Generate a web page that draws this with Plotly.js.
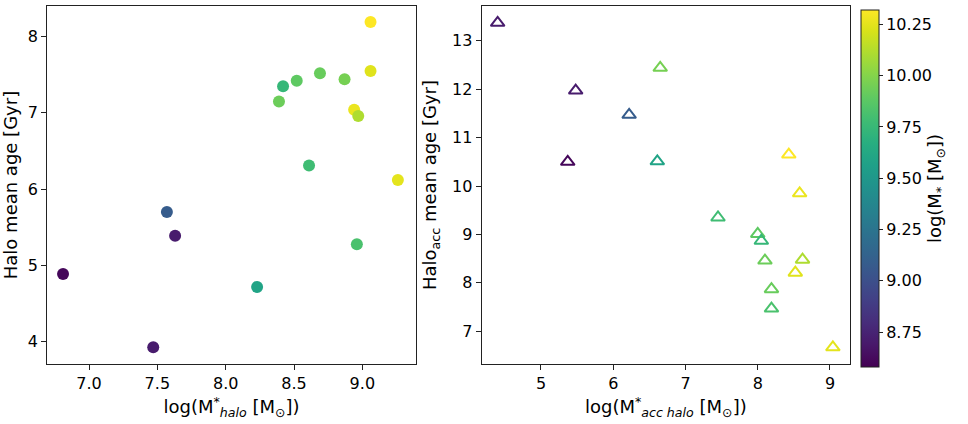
<!DOCTYPE html>
<html>
<head>
<meta charset="utf-8">
<script src="https://cdn.plot.ly/plotly-3.0.1.min.js"></script>
<style>
  html, body { margin: 0; padding: 0; background: #fff; }
  #chart { width: 968px; height: 424px; }
</style>
</head>
<body>
<div id="chart"></div>
<script>
// left panel: halo stellar mass vs halo mean age
var haloMass = [6.81, 7.47, 7.57, 7.63, 8.23, 8.39, 8.42, 8.52, 8.69, 8.61, 8.87, 8.94, 8.97, 8.96, 9.06, 9.06, 9.26];
var haloAge  = [4.89, 3.93, 5.70, 5.39, 4.72, 7.15, 7.35, 7.42, 7.52, 6.31, 7.44, 7.04, 6.96, 5.28, 8.19, 7.55, 6.12];
var haloStar = [8.61, 8.71, 9.08, 8.71, 9.59, 9.93, 9.74, 9.89, 9.92, 9.78, 9.96, 10.27, 10.11, 9.82, 10.32, 10.24, 10.25];

// right panel: accreted halo stellar mass vs accreted halo mean age
var accMass = [4.40, 5.48, 6.22, 6.65, 5.37, 6.61, 8.43, 8.58, 7.45, 8.00, 8.05, 8.10, 8.62, 8.52, 8.19, 8.19, 9.04];
var accAge  = [13.37, 11.97, 11.47, 12.44, 10.50, 10.51, 10.65, 9.85, 9.35, 9.01, 8.87, 8.46, 8.48, 8.21, 7.87, 7.47, 6.67];
var accStar = [8.71, 8.71, 9.08, 9.96, 8.61, 9.59, 10.32, 10.27, 9.78, 9.89, 9.74, 9.93, 10.11, 10.24, 9.92, 9.82, 10.25];

var cmin = 8.58, cmax = 10.32;
var cbTicks = [8.75, 9.0, 9.25, 9.5, 9.75, 10.0, 10.25];

var data = [
    {
        type: 'scatter', mode: 'markers',
        x: haloMass, y: haloAge,
        xaxis: 'x', yaxis: 'y',
        marker: {
            size: 12, color: haloStar, colorscale: 'Viridis',
            cmin: cmin, cmax: cmax, showscale: false,
            line: { width: 0 }
        },
        showlegend: false
    },
    {
        type: 'scatter', mode: 'markers',
        x: accMass, y: accAge,
        xaxis: 'x2', yaxis: 'y2',
        marker: {
            symbol: 'triangle-up-open', size: 12, color: accStar,
            colorscale: 'Viridis', cmin: cmin, cmax: cmax,
            line: { width: 2 },
            showscale: true,
            colorbar: {
                x: 0.889, xanchor: 'left',
                y: 0.1344, yanchor: 'bottom',
                len: 0.842, lenmode: 'fraction',
                thickness: 18,
                outlinewidth: 1, outlinecolor: '#222',
                tickvals: cbTicks, tickformat: '.2f',
                ticks: 'outside', ticklen: 4, tickcolor: '#222',
                tickfont: { size: 16, color: '#000' },
                xpad: 0, ypad: 0,
                title: {
                    text: 'log(M<sub>*</sub> [M<sub>⊙</sub>])',
                    side: 'right',
                    font: { size: 18, color: '#000' }
                }
            }
        },
        showlegend: false
    }
];

var axisStyle = {
    showgrid: false, zeroline: false,
    showline: true, mirror: true, linecolor: '#222', linewidth: 1,
    ticks: 'outside', ticklen: 5, tickcolor: '#222',
    tickfont: { size: 16, color: '#000' },
    automargin: false
};

function ax(extra) {
    return Object.assign({}, axisStyle, extra);
}

var layout = {
    width: 968, height: 424,
    margin: { l: 0, r: 0, t: 0, b: 0 },
    paper_bgcolor: '#fff', plot_bgcolor: '#fff',
    font: { family: 'DejaVu Sans, sans-serif', color: '#000' },
    xaxis: ax({
        domain: [0.0486, 0.4298], range: [6.693, 9.393], anchor: 'y',
        tickvals: [7.0, 7.5, 8.0, 8.5, 9.0], tickformat: '.1f',
        title: { text: 'log(M<sup>*</sup><sub><i>halo</i></sub> [M<sub>⊙</sub>])', font: { size: 18 }, standoff: 8 }
    }),
    yaxis: ax({
        domain: [0.1415, 0.9858], range: [3.71, 8.40], anchor: 'x',
        tickvals: [4, 5, 6, 7, 8],
        title: { text: 'Halo mean age [Gyr]', font: { size: 18 }, standoff: 12 }
    }),
    xaxis2: ax({
        domain: [0.4976, 0.8781], range: [4.179, 9.277], anchor: 'y2',
        tickvals: [5, 6, 7, 8, 9],
        title: { text: 'log(M<sup>*</sup><sub><i>acc halo</i></sub> [M<sub>⊙</sub>])', font: { size: 18 }, standoff: 8 }
    }),
    yaxis2: ax({
        domain: [0.1415, 0.9858], range: [6.325, 13.716], anchor: 'x2',
        tickvals: [7, 8, 9, 10, 11, 12, 13],
        title: { text: 'Halo<sub>acc</sub> mean age [Gyr]', font: { size: 18 }, standoff: 10 }
    })
};

Plotly.newPlot('chart', data, layout, { staticPlot: true });
</script>
</body>
</html>
